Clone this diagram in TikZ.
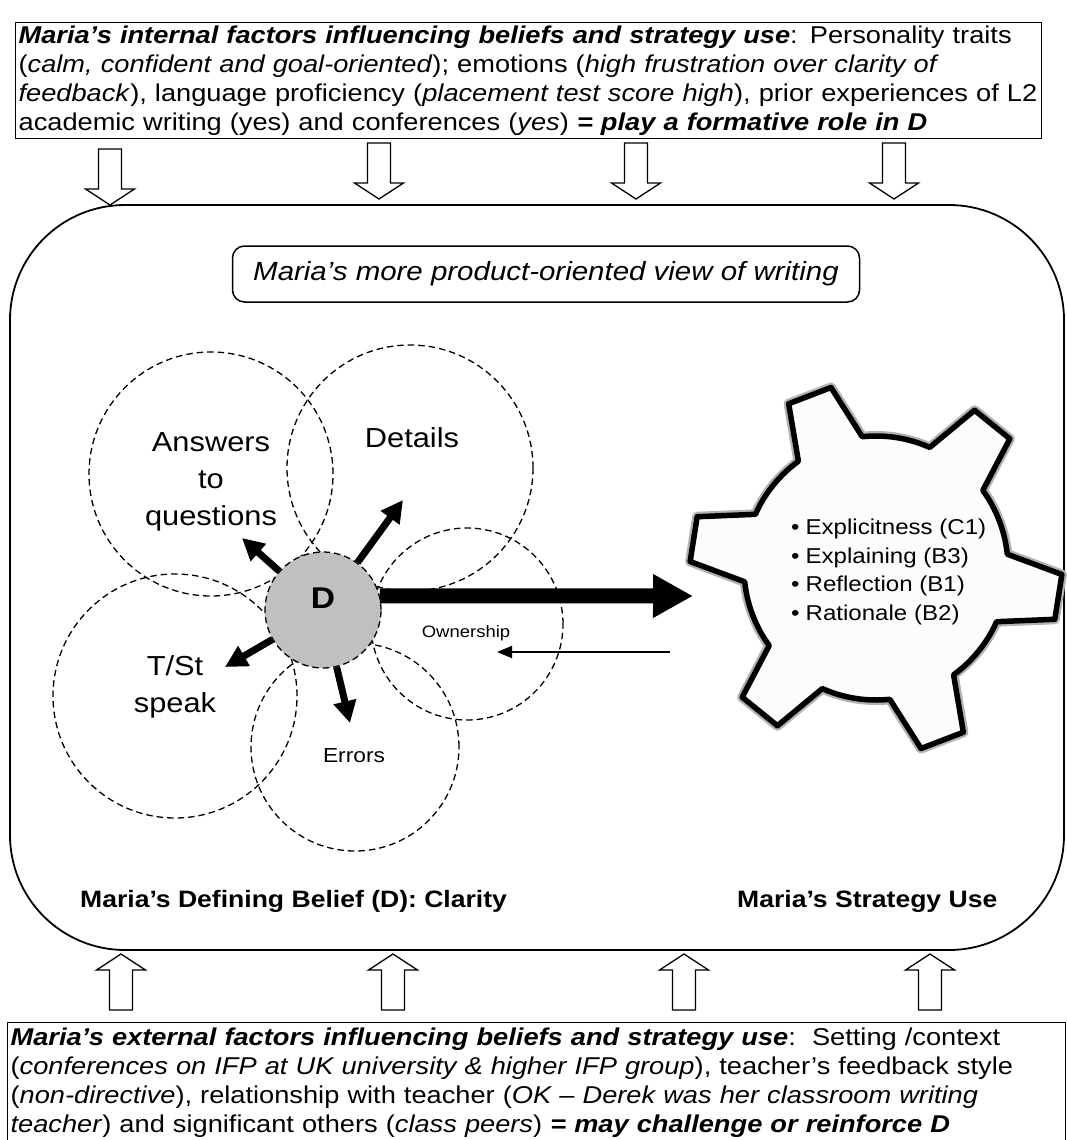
\documentclass[tikz,border=0pt]{standalone}
\usepackage{fontspec}
\setmainfont{Liberation Sans}[FakeStretch=1.12]
\usetikzlibrary{arrows.meta}
\definecolor{beliefgray}{HTML}{C0C0C0}
\definecolor{cogfill}{HTML}{FCFCFC}

\begin{document}
\begin{tikzpicture}[x=1pt, y=-1pt,
  factorbox/.style={draw, line width=1.3pt, anchor=north west, align=left,
    inner xsep=3pt, inner ysep=0pt, font=\fontsize{24.3pt}{29pt}\selectfont},
  petal/.style={draw, circle, dash pattern=on 6.5pt off 4pt, line width=1.3pt, inner sep=0pt},
  petallabel/.style={align=center, inner sep=0pt, font=\fontsize{27.5pt}{37pt}\selectfont},
  spoke/.style={line width=7pt, -{Triangle[length=22pt,width=22pt]}},
  mainarrow/.style={line width=15pt, -{Triangle[length=40pt,width=41pt]}},
  backarrow/.style={line width=1.8pt, -{Triangle[length=15pt,width=12pt]}},
  sectiontitle/.style={anchor=base west, inner sep=0pt, font=\fontsize{23.7pt}{28pt}\selectfont\bfseries},
  blockdown/.pic={\draw[line width=1.3pt, fill=white] (-11.5,0) -- (-11.5,40) -- (-24.5,40)
    -- (0,56) -- (24.5,40) -- (11.5,40) -- (11.5,0) -- cycle;},
  blockup/.pic={\draw[line width=1.3pt, fill=white] (-11.5,0) -- (-11.5,-40) -- (-24.5,-40)
    -- (0,-56) -- (24.5,-40) -- (11.5,-40) -- (11.5,0) -- cycle;},
]
\useasboundingbox (0,0) rectangle (1067,1140);

% internal factors
\node[factorbox, minimum width=1026pt, minimum height=116pt, text width=1020pt] (internal) at (15,22)
{\textbf{\textit{Maria’s internal factors influencing beliefs and strategy use}}: Personality traits\\
(\textit{calm, confident and goal-oriented}); emotions (\textit{high frustration over clarity of}\\
\textit{feedback}), language proficiency (\textit{placement test score high}), prior experiences of L2\\
academic writing (yes) and conferences (\textit{yes}) \textbf{\textit{= play a formative role in D}}};

% external factors
\node[factorbox, minimum width=1058pt, minimum height=121pt, text width=1052pt] (external) at (7,1022)
{\textbf{\textit{Maria’s external factors influencing beliefs and strategy use}}:\ \ Setting /context\\
(\textit{conferences on IFP at UK university \& higher IFP group}), teacher’s feedback style\\
(\textit{non-directive}), relationship with teacher (\textit{OK – Derek was her classroom writing}\\
\textit{teacher}) and significant others (\textit{class peers}) \textbf{\textit{= may challenge or reinforce D}}};

% influence arrows
\pic at (110,149) {blockdown};
\pic at (379,143) {blockdown};
\pic at (636,143) {blockdown};
\pic at (894,143) {blockdown};
\pic at (121,1010) {blockup};
\pic at (393,1010) {blockup};
\pic at (684,1010) {blockup};
\pic at (930,1010) {blockup};

% frame
\draw[line width=1.8pt, rounded corners=115pt] (10,205) rectangle (1064,950);

\node[draw, line width=1.5pt, rounded corners=12pt, minimum width=627pt, minimum height=56pt,
  inner sep=0pt, font=\fontsize{26.3pt}{30pt}\selectfont\itshape] (view) at (546,274)
  {Maria’s more product-oriented view of writing};

% belief petals
\node[petal, minimum size=244pt] (cAns) at (211,474) {};
\node[petal, minimum size=246pt] (cDet) at (410,468) {};
\node[petal, minimum size=244pt] (cTSt) at (175,696) {};
\node[petal, minimum size=208pt] (cErr) at (355,747) {};
\node[petal, minimum size=192pt] (cOwn) at (467,624) {};

\node[circle, draw, fill=beliefgray, dash pattern=on 6.5pt off 4pt, line width=1.3pt,
  minimum size=116pt, inner sep=0pt] (D) at (323,610) {};
\node[inner sep=0pt, font=\fontsize{30pt}{34pt}\selectfont\bfseries] (Dletter) at (323,598) {D};

\coordinate (tipAns) at (242,538);
\coordinate (tipDet) at (403,500);
\coordinate (tipTSt) at (225,667);
\coordinate (tipErr) at (350,723);
\coordinate (tipCog) at (693,596);
\coordinate (ownFrom) at (670,652);
\coordinate (ownTo) at (497,652);

\draw[spoke] (D) -- (tipAns);
\draw[spoke] (D) -- (tipDet);
\draw[spoke] (D) -- (tipTSt);
\draw[spoke] (D) -- (tipErr);
\draw[mainarrow] (D.14) -- (tipCog);
\draw[backarrow] (ownFrom) -- (ownTo);

\node[petallabel] (lAns) at (211,482) {Answers\\to\\questions};
\node[petallabel, anchor=base] (lDet) at (412,447) {Details};
\node[petallabel] (lTSt) at (175,687) {T/St\\speak};
\node[anchor=base, inner sep=0pt, font=\fontsize{20.3pt}{24pt}\selectfont] (lErr) at (354,762) {Errors};
\node[anchor=base, inner sep=0pt, font=\fontsize{16.5pt}{20pt}\selectfont] (lOwn) at (466,637) {Ownership};

% strategy cog
\begin{scope}[shift={(876,568)}, yscale=-1]
  \draw[line width=10pt, black!30, line join=round]
    (36:132) \foreach \a in {51,111,171,231,291,351}{
      -- ({\a-7}:186) -- ({\a+7}:186) -- ({\a+15}:132)
      arc[start angle={\a+15}, end angle={\a+45}, radius=132]} -- cycle;
  \draw[line width=5.5pt, fill=cogfill, line join=round]
    (36:132) \foreach \a in {51,111,171,231,291,351}{
      -- ({\a-7}:186) -- ({\a+7}:186) -- ({\a+15}:132)
      arc[start angle={\a+15}, end angle={\a+45}, radius=132]} -- cycle;
\end{scope}
\node[anchor=north west, align=left, inner sep=0pt, font=\fontsize{21.5pt}{28.5pt}\selectfont] (strategies) at (791,519)
{\textbullet\hspace{6pt}Explicitness (C1)\\
 \textbullet\hspace{6pt}Explaining (B3)\\
 \textbullet\hspace{6pt}Reflection (B1)\\
 \textbullet\hspace{6pt}Rationale (B2)};

% section titles
\node[sectiontitle] (beliefTitle) at (80,907) {Maria’s Defining Belief (D): Clarity};
\node[sectiontitle] (strategyTitle) at (737,907) {Maria’s Strategy Use};
\end{tikzpicture}
\end{document}
